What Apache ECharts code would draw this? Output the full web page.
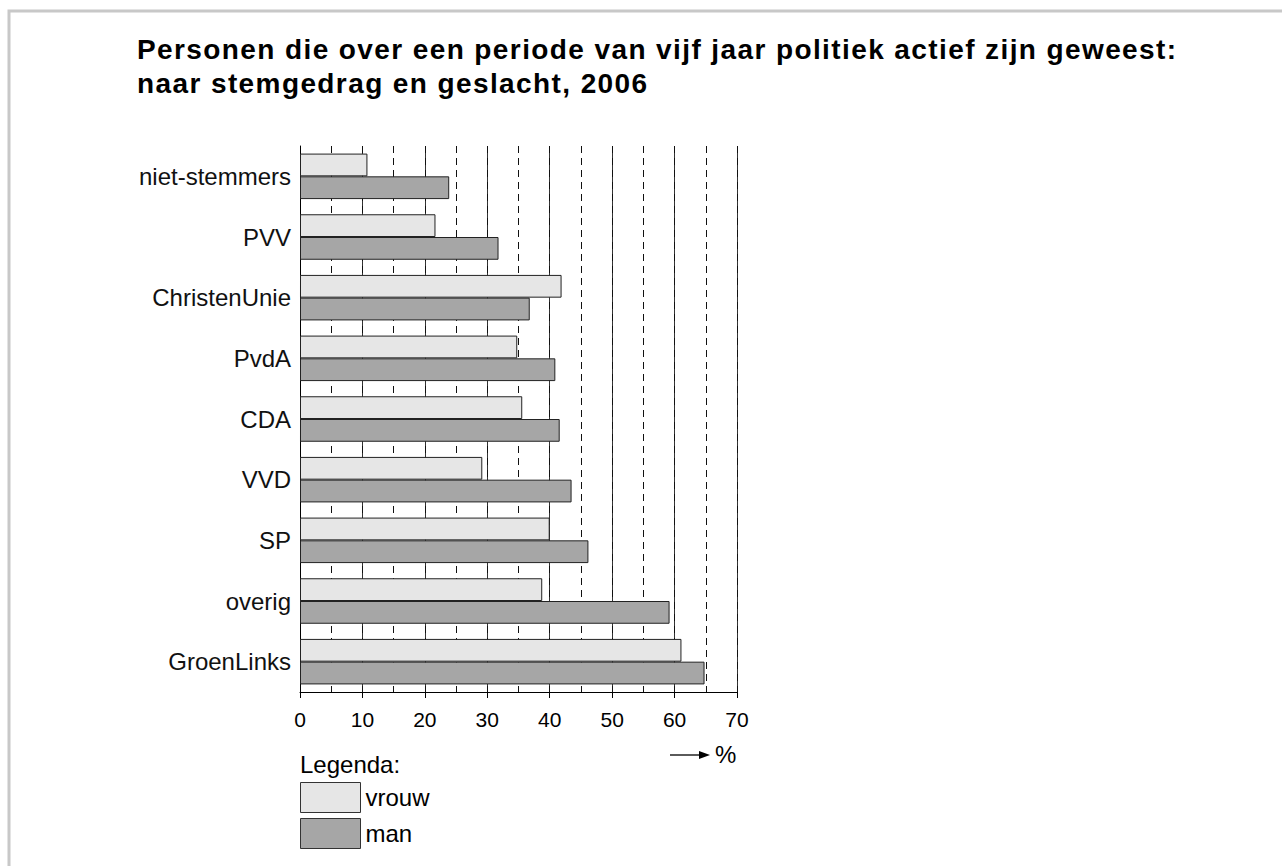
<!DOCTYPE html>
<html>
<head>
<meta charset="utf-8">
<script src="https://cdn.jsdelivr.net/npm/echarts@6/dist/echarts.min.js"></script>
<style>
html,body{margin:0;padding:0;background:#fff;}
#chart{width:1282px;height:866px;}
#chart text[style*="bold"]{letter-spacing:1.4px;}
</style>
</head>
<body>
<div id="chart"></div>
<script>
const categories = ['niet-stemmers','PVV','ChristenUnie','PvdA','CDA','VVD','SP','overig','GroenLinks'];
const vrouw = [10.8, 21.7, 41.9, 34.8, 35.6, 29.2, 40.0, 38.8, 61.1];
const man   = [23.9, 31.8, 36.8, 40.9, 41.6, 43.5, 46.2, 59.2, 64.8];
const xTicks = [0, 10, 20, 30, 40, 50, 60, 70];

const FONT = '"Liberation Sans", Arial, sans-serif';
const chart = echarts.init(document.getElementById('chart'), null, {renderer:'svg'});
chart.setOption({
  backgroundColor: '#fff',
  animation: false,
  title: {
    text: 'Personen die over een periode van vijf jaar politiek actief zijn geweest:\nnaar stemgedrag en geslacht, 2006',
    left: 132, top: 27,
    textStyle: {fontFamily: FONT, fontSize: 28, fontWeight: 'bold', color: '#000', lineHeight: 34}
  },
  legend: {
    data: ['vrouw','man'],
    orient: 'vertical',
    left: 295, top: 777,
    itemWidth: 60, itemHeight: 30, itemGap: 5,
    icon: 'rect',
    itemStyle: {borderWidth: 1, borderColor: '#333'},
    textStyle: {fontFamily: FONT, fontSize: 24, color: '#000'}
  },
  grid: {left: 300, top: 146, width: 437, height: 546, containLabel: false},
  xAxis: [{
    type: 'value', min: xTicks[0], max: xTicks[xTicks.length-1], interval: 10,
    axisLine: {show: true, lineStyle: {color: '#000', width: 1}},
    axisTick: {show: true, length: 6, lineStyle: {color: '#000'}},
    axisLabel: {fontFamily: FONT, fontSize: 21, color: '#000', margin: 17},
    splitLine: {show: true, lineStyle: {color: '#333', width: 1, type: 'solid'}}
  },{
    type: 'value', min: 0, max: 70, interval: 5, position: 'bottom',
    axisLine: {show: false}, axisTick: {show: false}, axisLabel: {show: false},
    splitLine: {show: true, lineStyle: {color: '#111', width: 1, type: [7,5]}}
  }],
  yAxis: {
    type: 'category', data: categories, inverse: true,
    axisLine: {show: true, lineStyle: {color: '#000', width: 1}},
    axisTick: {show: false},
    axisLabel: {fontFamily: FONT, fontSize: 24, color: '#111', margin: 9}
  },
  series: [{
    name: 'vrouw', type: 'bar', data: vrouw, xAxisIndex: 0,
    barGap: '0%', barCategoryGap: '25%',
    itemStyle: {color: '#e6e6e6', borderColor: '#222', borderWidth: 1}
  },{
    name: 'man', type: 'bar', data: man, xAxisIndex: 0,
    barGap: '0%', barCategoryGap: '25%',
    itemStyle: {color: '#a6a6a6', borderColor: '#222', borderWidth: 1}
  }],
  graphic: [
    {type: 'rect', shape: {x: 9, y: 11, width: 1400, height: 1000}, style: {fill: 'none', stroke: '#c8c8c8', lineWidth: 3}, silent: true},
    {type: 'text', left: 300, top: 752, style: {text: 'Legenda:', font: '24px ' + FONT, fill: '#000'}},
    {type: 'line', shape: {x1: 670, y1: 755, x2: 702, y2: 755}, style: {stroke: '#000', lineWidth: 1.3}},
    {type: 'polygon', shape: {points: [[710,755],[699,751],[699,759]]}, style: {fill: '#000'}},
    {type: 'text', left: 715, top: 742, style: {text: '%', font: '24px ' + FONT, fill: '#000'}}
  ]
});
</script>
</body>
</html>
